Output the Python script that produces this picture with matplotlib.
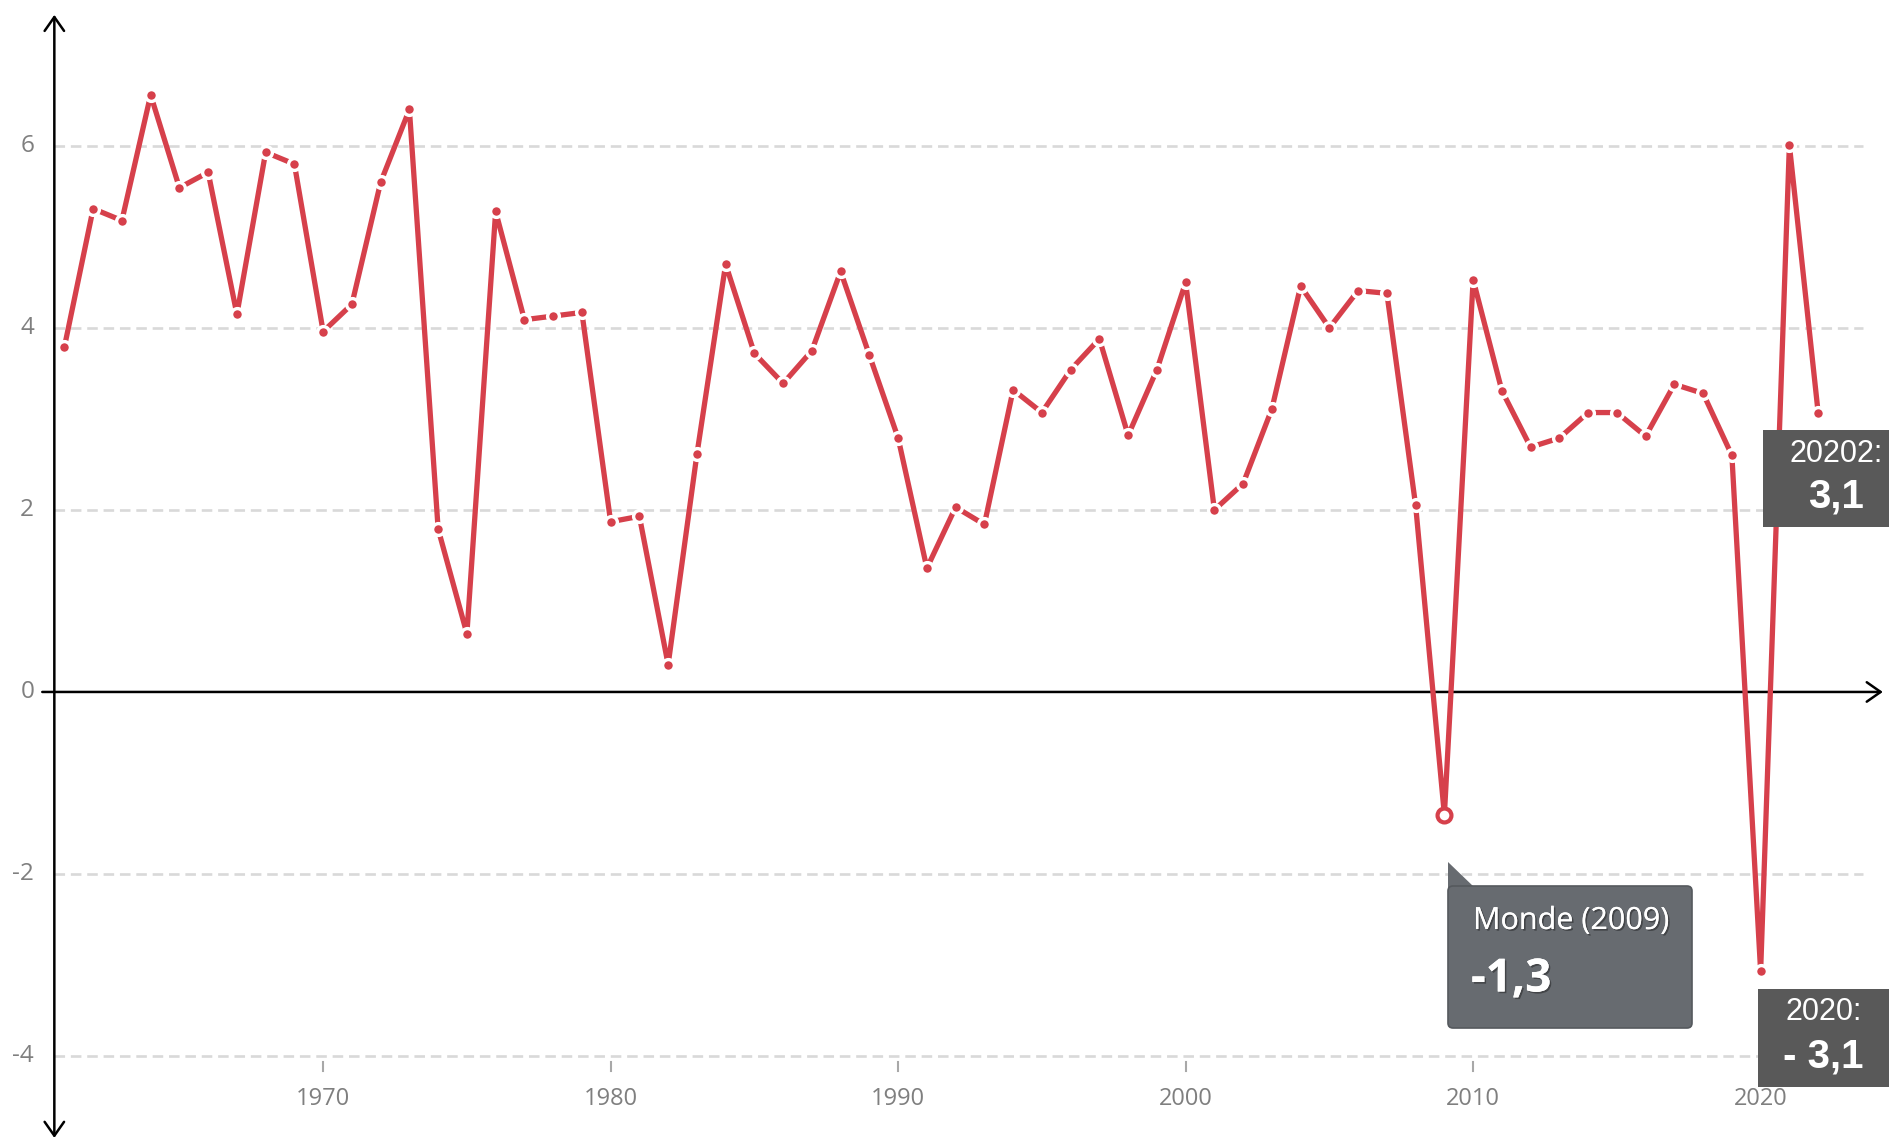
import matplotlib
matplotlib.use("Agg")
import matplotlib.pyplot as plt
import matplotlib.patheffects as pe
from matplotlib.patches import FancyArrowPatch, Polygon, Rectangle, FancyBboxPatch
from matplotlib.transforms import IdentityTransform

# ---------------- data ----------------
years = list(range(1961, 2023))
growth = [3.79, 5.31, 5.18, 6.56, 5.54, 5.71, 4.15, 5.93, 5.80, 3.96,
          4.26, 5.60, 6.40, 1.79, 0.64, 5.28, 4.09, 4.13, 4.17, 1.87,
          1.93, 0.30, 2.61, 4.70, 3.72, 3.39, 3.75, 4.62, 3.70, 2.79,
          1.36, 2.03, 1.84, 3.32, 3.07, 3.54, 3.88, 2.82, 3.54, 4.50,
          2.00, 2.29, 3.11, 4.46, 4.00, 4.41, 4.38, 2.05, -1.35, 4.53,
          3.31, 2.69, 2.79, 3.07, 3.07, 2.81, 3.38, 3.28, 2.60, -3.07,
          6.01, 3.07]
x_ticks = [1970, 1980, 1990, 2000, 2010, 2020]
y_ticks = [-4, -2, 0, 2, 4, 6]
y_tick_labels = ["-4", "-2", "0", "2", "4", "6"]
highlight_year = 2009
tooltip_title = "Monde (2009)"
tooltip_value = "-1,3"
box_top_label = "20202:"
box_top_value = "3,1"
box_bottom_label = "2020:"
box_bottom_value = "- 3,1"

# ---------------- style ----------------
RED = "#d6404b"
GRID = "#d9d9d9"
TICK = "#7f7f7f"
W, H = 1890, 1143

fig = plt.figure(figsize=(W / 100, H / 100), dpi=100)
fig.patch.set_facecolor("white")
ax = fig.add_axes([0, 0, 1, 1])
ax.set_xlim(1958.76, 2024.50)
ax.set_ylim(-4.956, 7.603)
ax.axis("off")

X_AXIS = 1960.65
# gridlines
for v in y_ticks:
    if v == 0:
        continue
    ax.plot([X_AXIS, 2023.56], [v, v], color=GRID, lw=1.9,
            ls=(0, (4, 2.2)), zorder=1, solid_capstyle="butt")

# axes with arrows
ya = FancyArrowPatch((X_AXIS, -4.90), (X_AXIS, 7.44),
                     arrowstyle="<->,head_length=0.5,head_width=0.35",
                     mutation_scale=20, lw=1.8, color="black",
                     shrinkA=0, shrinkB=0, zorder=2)
ax.add_patch(ya)
xa = FancyArrowPatch((1960.23, 0), (2024.25, 0),
                     arrowstyle="->,head_length=0.5,head_width=0.35",
                     mutation_scale=20, lw=1.8, color="black",
                     shrinkA=0, shrinkB=0, zorder=2)
ax.add_patch(xa)

# tick labels
for v, lab in zip(y_ticks, y_tick_labels):
    ax.text(1959.95, v, lab, ha="right", va="center", fontsize=17.5,
            color=TICK, family="Open Sans")
for x in x_ticks:
    ax.plot([x, x], [-4.07, -4.17], color="#a8a8a8", lw=1.5, zorder=1)
    ax.text(x, -4.477, str(x), ha="center", va="center", fontsize=17,
            color=TICK, family="Open Sans")

# series
ax.plot(years, growth, color=RED, lw=3.8, zorder=3)
xs = [y for y in years if y != highlight_year]
vs = [g for y, g in zip(years, growth) if y != highlight_year]
ax.plot(xs, vs, "o", ms=8.5, mfc=RED, mec="white", mew=2.4, zorder=4)
hv = growth[years.index(highlight_year)]
ax.plot([highlight_year], [hv], "o", ms=10, mfc="white", mec=RED, mew=3,
        zorder=5)

# ---------------- annotations (pixel layout) ----------------
def P(px, py):
    return (px, H - py)

T = IdentityTransform()
shadow = [pe.withSimplePatchShadow(offset=(1.2, -1.2), shadow_rgbFace="black",
                                   alpha=0.35), pe.Normal()]
# tooltip for 2009
tip = Polygon([P(1448, 862), P(1448, 892), P(1474, 887)], closed=True,
              facecolor="#676b70", edgecolor="none", transform=T, zorder=10)
fig.patches.append(tip)
box = FancyBboxPatch(P(1448, 1028), 244, 142,
                     boxstyle="round,pad=0,rounding_size=5",
                     facecolor="#676b70", edgecolor="#55595d", lw=1.2,
                     transform=T, zorder=10)
fig.patches.append(box)
fig.text(1473 / W, 1 - 921 / H, tooltip_title, ha="left", va="center",
         fontsize=22, color="white", family="Open Sans", zorder=11,
         path_effects=shadow)
fig.text(1471 / W, 1 - 979 / H, tooltip_value, ha="left", va="center",
         fontsize=33, color="white", family="Open Sans", weight="bold",
         zorder=11, path_effects=shadow)

# upper right box
r1 = Rectangle(P(1763, 527), W - 1763, 97, facecolor="#595959",
               edgecolor="none", transform=T, zorder=10)
fig.patches.append(r1)
fig.text(1836 / W, 1 - 454 / H, box_top_label, ha="center", va="center",
         fontsize=22, color="white", family="Liberation Sans", zorder=11)
fig.text(1836 / W, 1 - 497 / H, box_top_value, ha="center", va="center",
         fontsize=29, color="white", family="Liberation Sans",
         weight="bold", zorder=11)

# lower right box
r2 = Rectangle(P(1758, 1087), W - 1758, 98, facecolor="#595959",
               edgecolor="none", transform=T, zorder=10)
fig.patches.append(r2)
fig.text(1824 / W, 1 - 1012 / H, box_bottom_label, ha="center",
         va="center", fontsize=22, color="white", family="Liberation Sans",
         zorder=11)
fig.text(1823 / W, 1 - 1057 / H, box_bottom_value, ha="center",
         va="center", fontsize=29, color="white", family="Liberation Sans",
         weight="bold", zorder=11)

fig.savefig("out.png", dpi=100)
